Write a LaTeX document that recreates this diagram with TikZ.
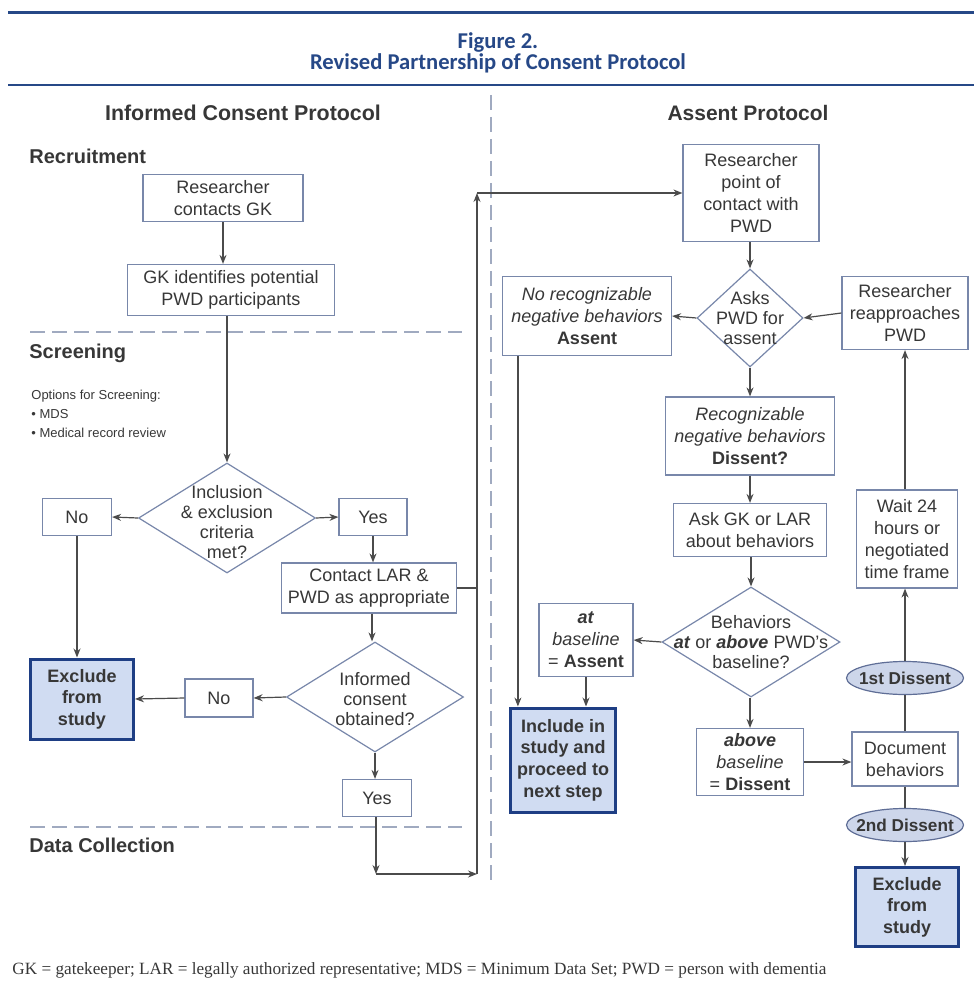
\documentclass[tikz,border=0pt]{standalone}
\usepackage{fontspec}
\setmainfont{Liberation Sans}
\newfontfamily\titlefont{Carlito}
\newfontfamily\notefont{Liberation Serif}
\usepackage{tikz}
\usetikzlibrary{arrows.meta,positioning,shapes.geometric,calc}
\definecolor{titleblue}{RGB}{38,72,135}
\definecolor{boxline}{RGB}{120,135,170}
\definecolor{textgrey}{RGB}{55,55,55}
\definecolor{linegrey}{RGB}{75,75,75}
\definecolor{heavyblue}{RGB}{30,62,132}
\definecolor{heavyfill}{RGB}{208,220,242}
\definecolor{ovalfill}{RGB}{205,214,234}
\definecolor{ovalline}{RGB}{95,110,150}
\definecolor{sepgrey}{RGB}{160,170,192}

\begin{document}
\begin{tikzpicture}[x=0.5pt, y=-0.5pt,
    box/.style={rectangle, draw=boxline, line width=0.6pt, fill=white, align=center, text=textgrey, font=\fontsize{9}{11}\selectfont, inner sep=1pt},
    endbox/.style={box, draw=heavyblue, line width=1.5pt, fill=heavyfill, font=\fontsize{9}{10.8}\selectfont\bfseries},
    decide/.style={diamond, draw=boxline, line width=0.6pt, fill=white, inner sep=0pt},
    dtext/.style={align=center, text=textgrey, font=\fontsize{9}{10}\selectfont, inner sep=0pt},
    oval/.style={ellipse, draw=ovalline, line width=0.6pt, fill=ovalfill, text=textgrey, font=\fontsize{8.6}{10}\selectfont\bfseries, minimum width=58.5pt, minimum height=16.5pt, inner xsep=-4pt, inner ysep=0pt},
    stage/.style={anchor=west, text=textgrey, font=\fontsize{10}{12}\selectfont\bfseries, inner sep=0pt},
    colhead/.style={text=textgrey, font=\fontsize{10.7}{13}\selectfont\bfseries},
    arrow/.style={-{Stealth[length=4.5pt, width=3.5pt]}, draw=linegrey, line width=0.6pt},
    joinline/.style={draw=linegrey, line width=0.6pt},
    divline/.style={draw=sepgrey, line width=0.7pt, dash pattern=on 7.5pt off 3.5pt}
]
    \useasboundingbox (0,0) rectangle (974,994);

    % Title and rules
    \draw[titleblue, line width=1.5pt] (8,13) -- (974,13);
    \node[font=\titlefont\fontsize{11.3}{10.2}\selectfont\bfseries, text=titleblue, align=center] (title) at (498,53) {Figure 2.\\Revised Partnership of Consent Protocol};
    \draw[titleblue, line width=1pt] (8,85) -- (974,85);

    % Column headings and divider
    \node[colhead] (lefthead) at (243,113) {Informed Consent Protocol};
    \node[colhead, font=\fontsize{10.5}{13}\selectfont\bfseries] (righthead) at (748,113) {Assent Protocol};
    \draw[divline] (491,95) -- (491,880);

    % Stages
    \node[stage] (recruit) at (29,156) {Recruitment};
    \node[stage] (screen) at (29,353) {Screening};
    \node[stage] (collect) at (29,845) {Data Collection};
    \node[anchor=west, align=left, text=textgrey, font=\fontsize{6.5}{9.5}\selectfont, inner sep=0pt] (options) at (31,414) {Options for Screening:\\\textbullet\ MDS\\\textbullet\ Medical record review};
    \draw[divline] (30,332) -- (462,332);
    \draw[divline] (30,827) -- (462,827);

    % Informed consent boxes
    \node[box, minimum width=80pt, minimum height=23.5pt] (contactgk) at (223,198) {Researcher\\contacts GK};
    \node[box, minimum width=103.5pt, minimum height=25.5pt] (identify) at (231,290) {GK identifies potential\\PWD participants};
    \node[decide, minimum width=88.5pt, minimum height=55pt] (criteria) at (227,518) {};
    \node[dtext] (criteria-t) at (227,522) {Inclusion\\\& exclusion\\criteria\\met?};
    \node[box, minimum width=34.5pt, minimum height=18.5pt] (no1) at (77,517) {No};
    \node[box, minimum width=34pt, minimum height=18.5pt] (yes1) at (373,517) {Yes};
    \node[box, minimum width=87.5pt, minimum height=25pt] (contactlar) at (369,588) {Contact LAR \&\\PWD as appropriate};
    \node[decide, minimum width=88.5pt, minimum height=55pt] (consent) at (375,697) {};
    \node[dtext] (consent-t) at (375,699) {Informed\\consent\\obtained?};
    \node[box, minimum width=34pt, minimum height=19pt] (no2) at (219,698) {No};
    \node[endbox, minimum width=51.5pt, minimum height=40pt] (exclude1) at (82,699) {Exclude\\from\\study};
    \node[box, minimum width=34.5pt, minimum height=18.5pt] (yes2) at (377,798) {Yes};

    % Assent boxes
    \node[box, minimum width=68pt, minimum height=48.5pt] (contactpwd) at (751,193) {Researcher\\point of\\contact with\\PWD};
    \node[decide, minimum width=53pt, minimum height=49pt] (askpwd) at (750,318) {};
    \node[dtext] (askpwd-t) at (750,318) {Asks\\PWD for\\assent};
    \node[box, minimum width=84.5pt, minimum height=39.5pt] (norecog) at (587,316) {\textit{No recognizable}\\\textit{negative behaviors}\\\textbf{Assent}};
    \node[box, minimum width=63pt, minimum height=36.5pt] (reapproach) at (905,313) {Researcher\\reapproaches\\PWD};
    \node[box, minimum width=84.5pt, minimum height=39pt] (recog) at (750,436) {\textit{Recognizable}\\\textit{negative behaviors}\\\textbf{Dissent?}};
    \node[box, minimum width=76.5pt, minimum height=26.5pt] (askgk) at (750,530) {Ask GK or LAR\\about behaviors};
    \node[decide, minimum width=89pt, minimum height=55pt] (baseline) at (751,642) {};
    \node[dtext] (baseline-t) at (751,642) {Behaviors\\\textbf{\textit{at}} or \textbf{\textit{above}} PWD's\\baseline?};
    \node[box, minimum width=47pt, minimum height=36.5pt] (atbase) at (586,640) {\textbf{\textit{at}}\\\textit{baseline}\\= \textbf{Assent}};
    \node[endbox, minimum width=52.5pt, minimum height=52pt] (include) at (563,760) {Include in\\study and\\proceed to\\next step};
    \node[box, minimum width=53.5pt, minimum height=33.5pt] (abovebase) at (750,762) {\textbf{\textit{above}}\\\textit{baseline}\\= \textbf{Dissent}};
    \node[box, minimum width=53pt, minimum height=27pt] (document) at (905,759) {Document\\behaviors};
    \node[oval] (dissent1) at (905,678) {1st Dissent};
    \node[box, minimum width=50.5pt, minimum height=49pt] (wait) at (907,539) {Wait 24\\hours or\\negotiated\\time frame};
    \node[oval] (dissent2) at (905,825) {2nd Dissent};
    \node[endbox, minimum width=51.5pt, minimum height=39.5pt] (exclude2) at (907,907) {Exclude\\from\\study};

    % Informed consent arrows
    \draw[arrow] (contactgk.south) -- (contactgk.south |- identify.north);
    \draw[arrow] (identify.south -| criteria.north) -- (criteria.north);
    \draw[arrow] (criteria.west) -- (no1.east);
    \draw[arrow] (criteria.east) -- (yes1.west);
    \draw[arrow] (no1.south) -- (no1.south |- exclude1.north);
    \draw[arrow] (yes1.south) -- (yes1.south |- contactlar.north);
    \draw[arrow] (contactlar.south -| 372,0) -- (consent.north -| 372,0);
    \draw[arrow] (consent.west) -- (no2.east);
    \draw[arrow] (no2.west) -- (exclude1.east);
    \draw[arrow] (consent.south) -- (consent.south |- yes2.north);

    % Link to assent protocol
    \coordinate (collect-end) at (376,874);
    \coordinate (join-low) at (477,874);
    \coordinate (join-top) at (477,193);
    \draw[arrow] (yes2.south -| collect-end) -- (collect-end);
    \draw[arrow] (collect-end) -- (join-low);
    \draw[joinline] (contactlar.east) -- (contactlar.east -| join-low);
    \draw[arrow] (join-low) -- (join-top);
    \draw[arrow] (join-top) -- (contactpwd.west);

    % Assent arrows
    \draw[arrow] (contactpwd.south -| askpwd.north) -- (askpwd.north);
    \draw[arrow] (askpwd.west) -- (norecog.east);
    \draw[arrow] (reapproach.west) -- (askpwd.east);
    \draw[arrow] (askpwd.south) -- (recog.north);
    \draw[arrow] (recog.south) -- (askgk.north);
    \draw[arrow] (askgk.south -| baseline.north) -- (baseline.north);
    \draw[arrow] (baseline.west) -- (atbase.east);
    \draw[arrow] (atbase.south) -- (atbase.south |- include.north);
    \draw[arrow] ([xshift=8pt]norecog.south west) -- ([xshift=8pt]norecog.south west |- include.north);
    \draw[arrow] (baseline.south -| abovebase.north) -- (abovebase.north);
    \draw[arrow] (abovebase.east) -- (abovebase.east -| document.west);
    \draw[joinline] (document.north) -- (dissent1.south);
    \draw[arrow] (dissent1.north) -- (dissent1.north |- wait.south);
    \draw[arrow] (wait.north -| reapproach.south) -- (reapproach.south);
    \draw[joinline] (document.south) -- (dissent2.north);
    \draw[arrow] (dissent2.south) -- (dissent2.south |- exclude2.north);

    % Abbreviations
    \node[anchor=west, font=\notefont\fontsize{8.6}{10}\selectfont, text=textgrey, inner sep=0pt] (note) at (12,970) {GK = gatekeeper; LAR = legally authorized representative; MDS = Minimum Data Set; PWD = person with dementia};
\end{tikzpicture}
\end{document}
